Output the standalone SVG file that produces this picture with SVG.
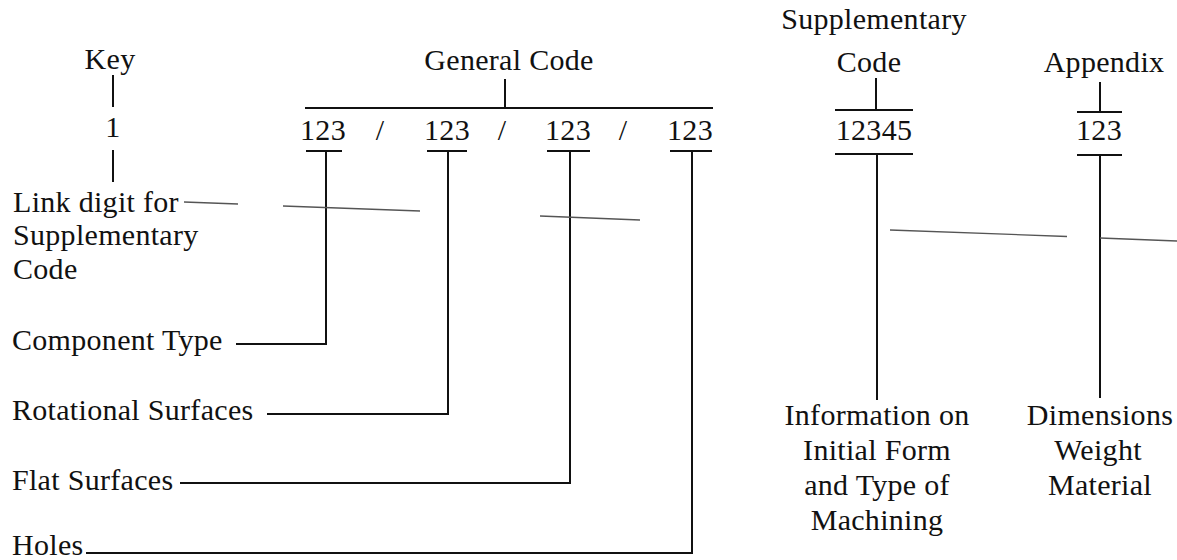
<svg xmlns="http://www.w3.org/2000/svg" width="1177" height="560" viewBox="0 0 1177 560">
<style>
  text { font-family: "Liberation Serif", "Times New Roman", serif; font-size: 30px; letter-spacing: 0.3px; fill: #111; }
  .c { text-anchor: middle; }
  .ln { stroke: #111; stroke-width: 2; fill: none; }
  .faint { stroke: #555; stroke-width: 1.3; fill: none; }
</style>
<rect width="1177" height="560" fill="#fff"/>

<g id="key">
  <text class="c" x="110" y="69">Key</text>
  <text class="c" x="113" y="137">1</text>
</g>
<g id="general-code">
  <text class="c" x="509" y="70">General Code</text>
</g>
<g id="gc-digits">
  <text class="c" x="323" y="140">123</text>
  <text class="c" x="380" y="140">/</text>
  <text class="c" x="447" y="140">123</text>
  <text class="c" x="502" y="140">/</text>
  <text class="c" x="568" y="140">123</text>
  <text class="c" x="623" y="140">/</text>
  <text class="c" x="690" y="140">123</text>
</g>
<g id="supplementary-code">
  <text class="c" x="874" y="29">Supplementary</text>
  <text class="c" x="869" y="72">Code</text>
  <text class="c" x="874" y="140">12345</text>
</g>
<g id="appendix">
  <text class="c" x="1104" y="72">Appendix</text>
  <text class="c" x="1099" y="140">123</text>
</g>
<g id="link-digit">
  <text x="13" y="212">Link digit for</text>
  <text x="13" y="245">Supplementary</text>
  <text x="13" y="279">Code</text>
</g>
<g id="component-type"><text x="12" y="350">Component Type</text></g>
<g id="rotational-surfaces"><text x="12" y="420">Rotational Surfaces</text></g>
<g id="flat-surfaces"><text x="12" y="490">Flat Surfaces</text></g>
<g id="holes"><text x="12" y="555">Holes</text></g>
<g id="information">
  <text class="c" x="877" y="425">Information on</text>
  <text class="c" x="877" y="460">Initial Form</text>
  <text class="c" x="877" y="495">and Type of</text>
  <text class="c" x="877" y="530">Machining</text>
</g>
<g id="dimensions">
  <text class="c" x="1100" y="425">Dimensions</text>
  <text class="c" x="1098" y="460">Weight</text>
  <text class="c" x="1100" y="495">Material</text>
</g>

<g id="connectors">
  <line class="ln" x1="113" y1="75" x2="113" y2="107"/>
  <line class="ln" x1="113" y1="150" x2="113" y2="182"/>
  <line class="ln" x1="505" y1="79" x2="505" y2="108"/>
  <line class="ln" x1="305" y1="108" x2="713" y2="108"/>
  <line class="ln" x1="306" y1="151" x2="342" y2="151"/>
  <line class="ln" x1="427" y1="151" x2="467" y2="151"/>
  <line class="ln" x1="547" y1="151" x2="590" y2="151"/>
  <line class="ln" x1="670" y1="151" x2="712" y2="151"/>
  <polyline class="ln" points="326,151 326,344 236,344"/>
  <polyline class="ln" points="448,151 448,414 267,414"/>
  <polyline class="ln" points="570,151 570,483 180,483"/>
  <polyline class="ln" points="692,151 692,553 86,553"/>
  <line class="ln" x1="876" y1="78" x2="876" y2="110"/>
  <line class="ln" x1="835" y1="110" x2="913" y2="110"/>
  <line class="ln" x1="835" y1="154" x2="913" y2="154"/>
  <line class="ln" x1="877" y1="154" x2="877" y2="400"/>
  <line class="ln" x1="1100" y1="82" x2="1100" y2="112"/>
  <line class="ln" x1="1077" y1="112" x2="1122" y2="112"/>
  <line class="ln" x1="1077" y1="155" x2="1122" y2="155"/>
  <line class="ln" x1="1100" y1="155" x2="1100" y2="398"/>
  <line class="faint" x1="184" y1="202" x2="238" y2="204"/>
  <line class="faint" x1="283" y1="206" x2="420" y2="211"/>
  <line class="faint" x1="540" y1="216" x2="640" y2="220"/>
  <line class="faint" x1="890" y1="230" x2="1067" y2="236.5"/>
  <line class="faint" x1="1100" y1="238" x2="1177" y2="241"/>
</g>
</svg>
